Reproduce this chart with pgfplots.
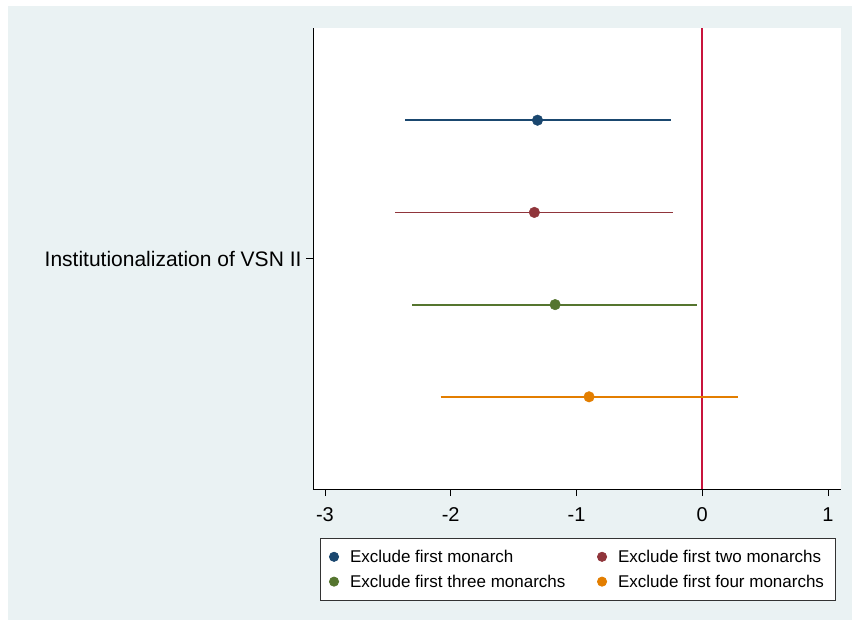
\documentclass[border=0pt]{standalone}
\usepackage{fontspec}
\setmainfont{Liberation Sans}
\usepackage{pgfplots}
\pgfplotsset{compat=1.18}
\definecolor{bg}{HTML}{EAF2F3}
\definecolor{sNavy}{HTML}{1A476F}
\definecolor{sMaroon}{HTML}{90353B}
\definecolor{sGreen}{HTML}{55752F}
\definecolor{sOrange}{HTML}{E37E00}
\definecolor{sRed}{HTML}{C8143C}
\begin{document}
\begin{tikzpicture}[x=1pt,y=1pt]
\path[fill=white] (0,0) rectangle (852,-621);
\fill[bg] (8,-6) rectangle (852,-620);
\begin{axis}[
  at={(313pt,-489pt)}, anchor=south west,
  scale only axis, width=528pt, height=461pt,
  xmin=-3.095, xmax=1.103, ymin=0, ymax=5,
  axis x line*=bottom, axis y line*=left,
  axis line style={line width=0.8pt, black},
  axis background/.style={fill=white},
  xtick={-3,-2,-1,0,1}, ytick={2.5}, yticklabels={Institutionalization of VSN II},
  tick align=outside, major tick length=7pt,
  tick style={line width=0.8pt, black},
  /pgf/number format/assume math mode=true,
  xticklabel style={font=\fontsize{20}{23}\selectfont, yshift=-8pt},
  yticklabel style={font=\fontsize{21}{24}\selectfont, xshift=-1pt},
  legend style={at={(0.0133,-0.1063)}, anchor=north west, draw=black!80, line width=0.8pt,
    fill=white, font=\fontsize{17}{19}\selectfont, inner xsep=9pt, inner ysep=9.5pt,
    row sep=7pt,
    /tikz/every even column/.append style={column sep=30pt}},
  legend columns=2, legend cell align=left,
  legend image code/.code={\path[#1, mark size=4.6pt] plot coordinates {(0pt,0pt)};\path[draw=none,fill=none] (0pt,0pt) -- (14pt,0pt);},
]
\addplot[sRed, line width=1.7pt, forget plot] coordinates {(0,0) (0,5)};
\addplot[sNavy, line width=1.8pt, forget plot] coordinates {(-2.36,4) (-0.246,4)};
\addplot[sMaroon, line width=1.8pt, forget plot] coordinates {(-2.44,3) (-0.23,3)};
\addplot[sGreen, line width=1.8pt, forget plot] coordinates {(-2.305,2) (-0.04,2)};
\addplot[sOrange, line width=1.8pt, forget plot] coordinates {(-2.08,1) (0.286,1)};
\addplot[only marks, mark=*, mark size=5.3pt, color=sNavy] coordinates {(-1.31,4)};
\addlegendentry{Exclude first monarch}
\addplot[only marks, mark=*, mark size=5.3pt, color=sMaroon] coordinates {(-1.335,3)};
\addlegendentry{Exclude first two monarchs}
\addplot[only marks, mark=*, mark size=5.3pt, color=sGreen] coordinates {(-1.17,2)};
\addlegendentry{Exclude first three monarchs}
\addplot[only marks, mark=*, mark size=5.3pt, color=sOrange] coordinates {(-0.90,1)};
\addlegendentry{Exclude first four monarchs}
\end{axis}
\end{tikzpicture}
\end{document}
